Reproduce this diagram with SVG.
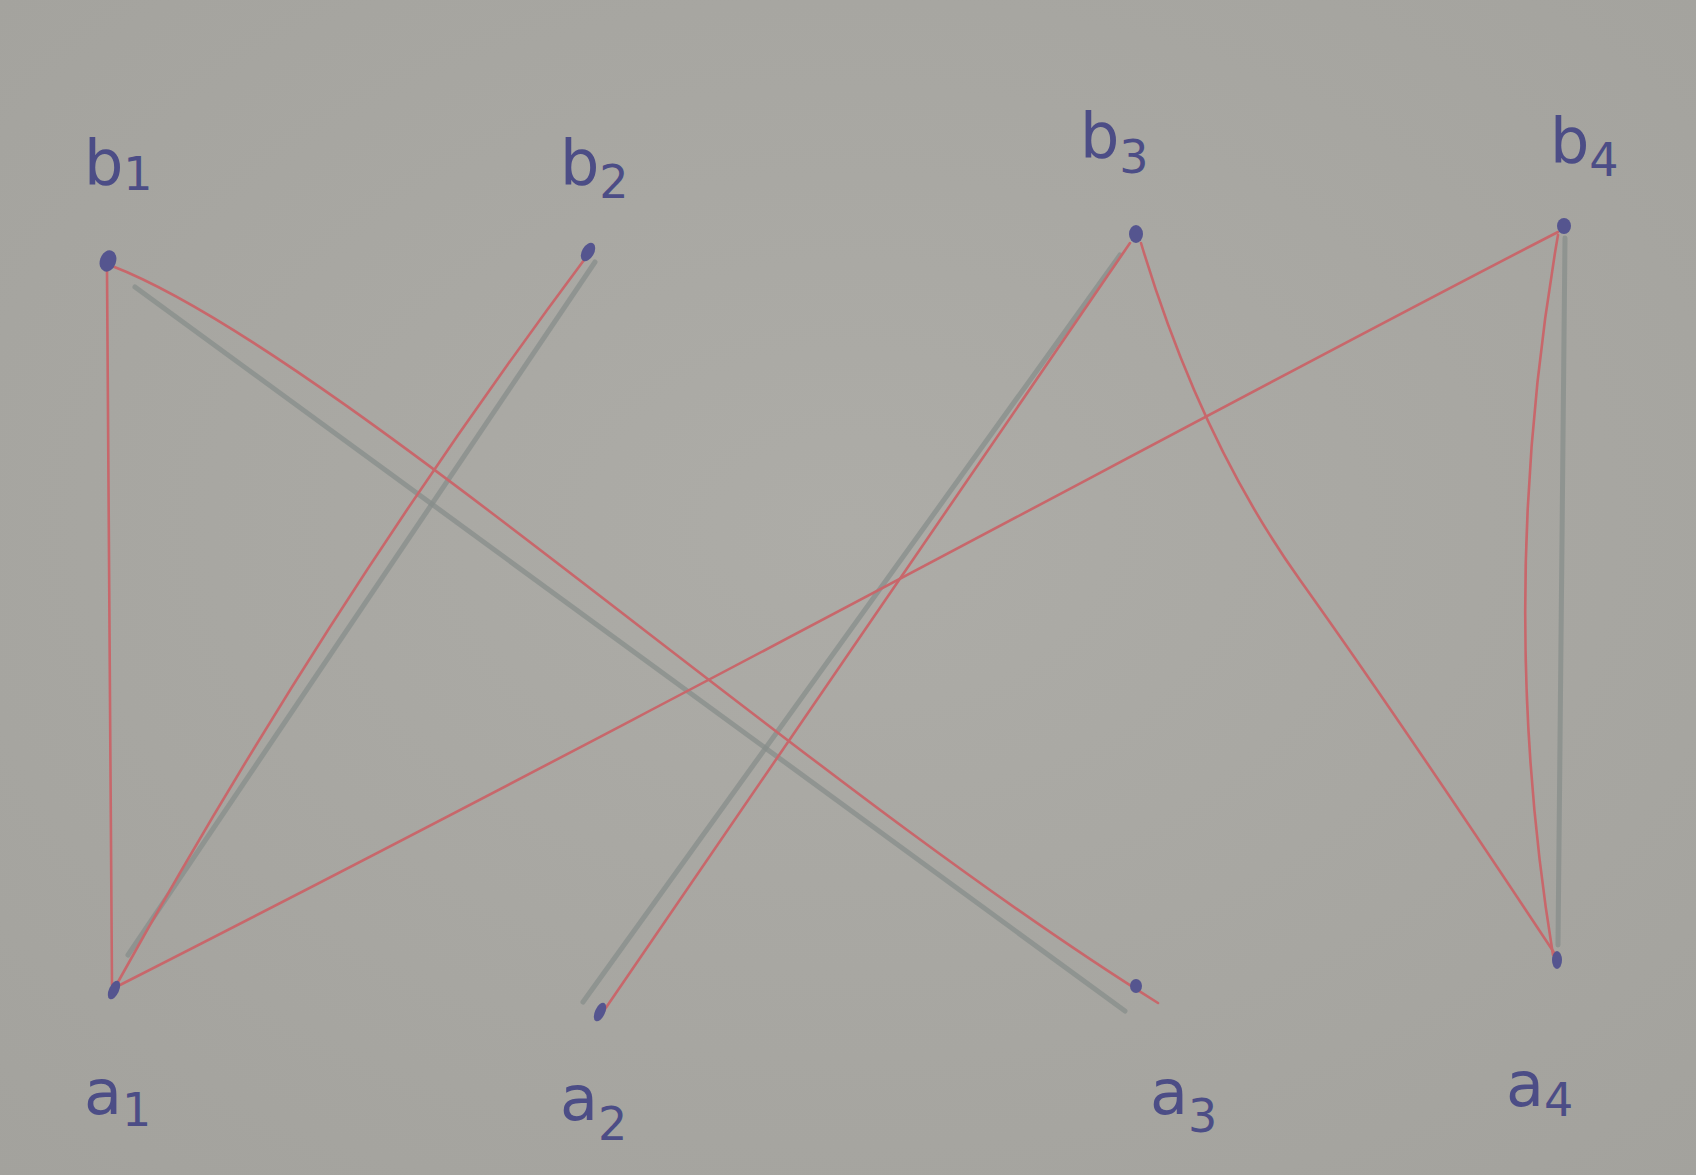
<svg xmlns="http://www.w3.org/2000/svg" width="1696" height="1175" viewBox="0 0 1696 1175">
<defs>
<radialGradient id="bg" cx="0.5" cy="0.45" r="0.75">
<stop offset="0" stop-color="#adaca7"/>
<stop offset="1" stop-color="#a3a29d"/>
</radialGradient>
</defs>
<style>
.red{fill:none;stroke:#c8676b;stroke-width:2.6;stroke-linecap:round}
.gray{fill:none;stroke:#878d8b;stroke-width:5;stroke-linecap:round;opacity:0.75}
.dot{fill:#55558f}
.lbl{font-family:"DejaVu Sans","Liberation Sans",sans-serif;font-size:62px;fill:#4c4d86}
.sub{font-size:46px}
</style>
<rect width="1696" height="1175" fill="url(#bg)"/>
<g id="connectors">
<path class="gray" d="M595,262 L128,955"/>
<path class="gray" d="M135,287 L1125,1011"/>
<path class="gray" d="M1120,255 L583,1002"/>
<path class="gray" d="M1565,238 L1558,945"/>
<path class="red" d="M107,270 Q110,620 112,985"/>
<path class="red" d="M112,266 C330,350 800,780 1158,1003"/>
<path class="red" d="M587,256 Q330,600 118,982"/>
<path class="red" d="M1558,232 C1250,390 700,690 120,985"/>
<path class="red" d="M1130,243 L603,1012"/>
<path class="red" d="M1141,243 Q1200,440 1300,580 T1557,957"/>
<path class="red" d="M1558,235 Q1495,600 1553,955"/>
</g>
<g id="b1"><ellipse class="dot" cx="108" cy="261" rx="8" ry="11" transform="rotate(20 108 261)"/><text class="lbl" x="84" y="184">b<tspan class="sub" dy="6">1</tspan></text></g>
<g id="b2"><ellipse class="dot" cx="588" cy="252" rx="6" ry="10" transform="rotate(30 588 252)"/><text class="lbl" x="560" y="184">b<tspan class="sub" dy="14">2</tspan></text></g>
<g id="b3"><ellipse class="dot" cx="1136" cy="234" rx="7" ry="9"/><text class="lbl" x="1080" y="157">b<tspan class="sub" dy="16">3</tspan></text></g>
<g id="b4"><ellipse class="dot" cx="1564" cy="226" rx="7" ry="8"/><text class="lbl" x="1550" y="162">b<tspan class="sub" dy="14">4</tspan></text></g>
<g id="a1"><ellipse class="dot" cx="114" cy="990" rx="5" ry="10" transform="rotate(25 114 990)"/><text class="lbl" x="84" y="1114">a<tspan class="sub" dy="12">1</tspan></text></g>
<g id="a2"><ellipse class="dot" cx="600" cy="1012" rx="5" ry="10" transform="rotate(25 600 1012)"/><text class="lbl" x="560" y="1120">a<tspan class="sub" dy="20">2</tspan></text></g>
<g id="a3"><ellipse class="dot" cx="1136" cy="986" rx="6" ry="7"/><text class="lbl" x="1150" y="1114">a<tspan class="sub" dy="18">3</tspan></text></g>
<g id="a4"><ellipse class="dot" cx="1557" cy="960" rx="5" ry="9"/><text class="lbl" x="1506" y="1106">a<tspan class="sub" dy="10">4</tspan></text></g>
</svg>
